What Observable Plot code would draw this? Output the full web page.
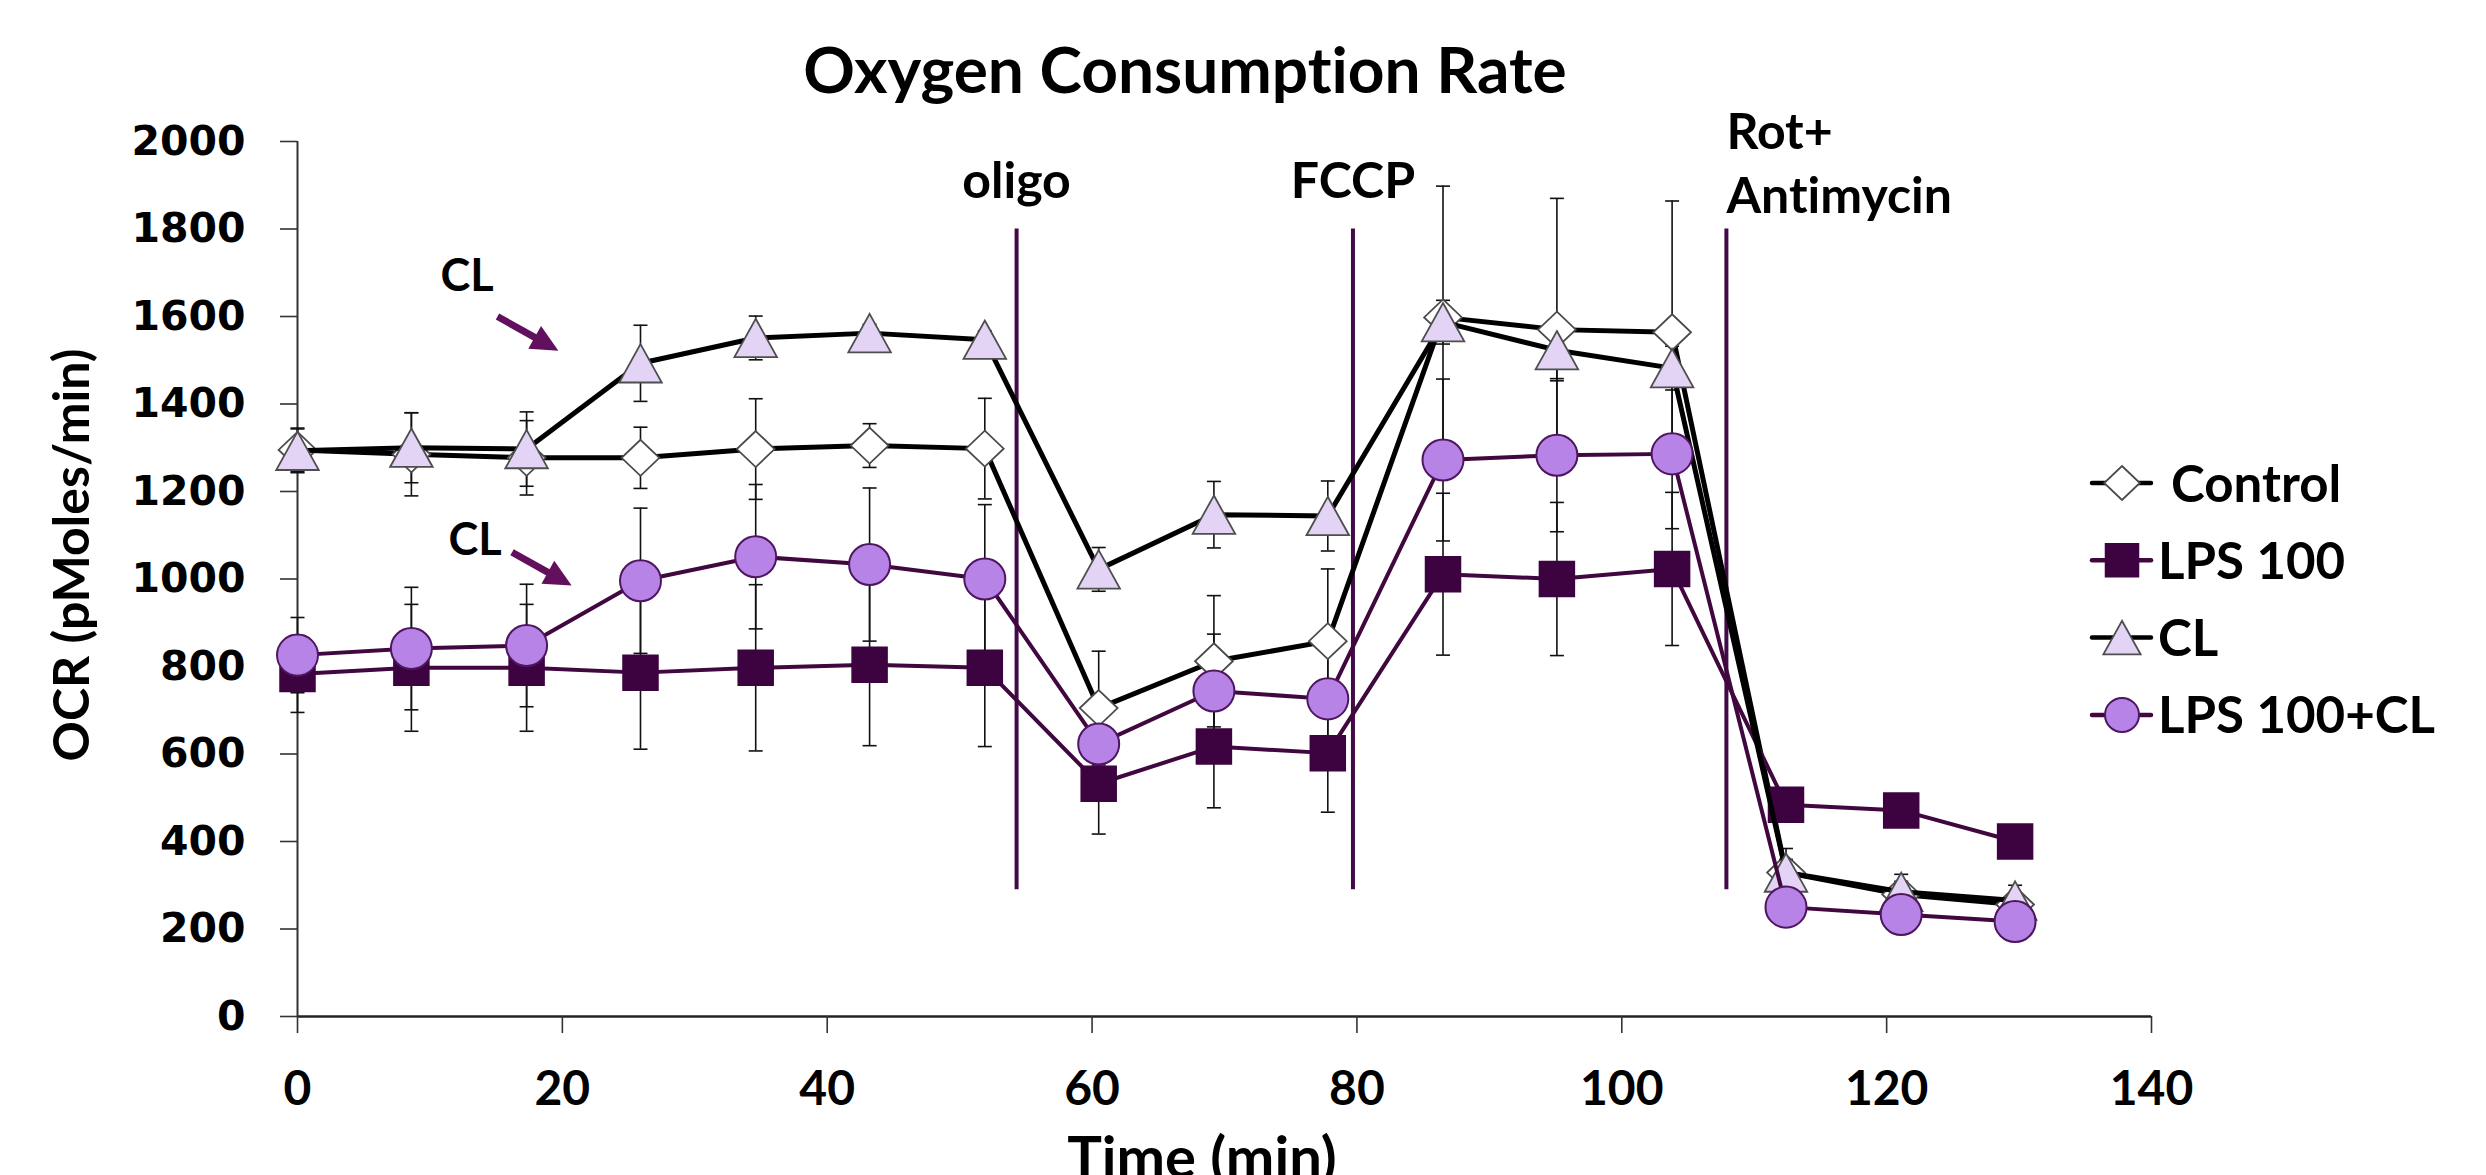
<!DOCTYPE html>
<html>
<head>
<meta charset="utf-8">
<script src="https://cdn.jsdelivr.net/npm/d3@7"></script>
<script src="https://cdn.jsdelivr.net/npm/@observablehq/plot@0.6"></script>
<style>
  html, body { margin: 0; padding: 0; background: #fff; overflow: hidden; }
  #chart { position: relative; width: 2486px; height: 1175px; }
  #chart svg text { font-variant-ligatures: none; }
</style>
</head>
<body>
<div id="chart"></div>
<script>
// ---------------- DATA ----------------
const seriesNames = ["Control", "LPS 100", "CL", "LPS 100+CL"];
const timeMin = [0, 8.6, 17.3, 25.9, 34.6, 43.2, 51.9, 60.5, 69.2, 77.8, 86.5, 95.1, 103.8, 112.4, 121.1, 129.7];

const ocrControl = [1295, 1285, 1277, 1277, 1297, 1305, 1298, 705, 812, 858, 1598, 1570, 1564, 329, 279, 256];
const errControl = [50, 95, 85, 70, 115, 50, 115, 130, 150, 165, 300, 300, 300, 30, 30, 25];

const ocrLps = [783, 797, 797, 786, 797, 804, 797, 532, 617, 602, 1011, 1000, 1023, 484, 471, 400];
const errLps = [88, 145, 145, 175, 190, 185, 180, 115, 140, 135, 185, 175, 175, 20, 20, 20];

const ocrCl = [1293, 1300, 1297, 1493, 1551, 1562, 1547, 1022, 1147, 1144, 1587, 1523, 1482, 329, 285, 265];
const errCl = [50, 80, 85, 87, 50, 20, 20, 50, 76, 80, 50, 70, 50, 55, 40, 35];

const ocrLpsCl = [826, 841, 848, 996, 1051, 1033, 1000, 623, 744, 726, 1272, 1283, 1286, 250, 233, 217];
const errLpsCl = [86, 140, 140, 166, 165, 175, 170, 100, 130, 120, 185, 175, 171, 20, 20, 20];

const treatmentNames = ["oligo", "FCCP", "Rot+\nAntimycin"];
const treatmentTimes = [54.3, 79.7, 107.9];

const calloutLabels = ["CL", "CL"];
const calloutTextX = [12.8, 13.4];
const calloutTextY = [1659, 1056];
const calloutFromX = [15.1, 16.2];
const calloutFromY = [1600, 1061];
const calloutToX = [19.7, 20.7];
const calloutToY = [1522, 985];

const xTicks = [0, 20, 40, 60, 80, 100, 120, 140];
const yTicks = [0, 200, 400, 600, 800, 1000, 1200, 1400, 1600, 1800, 2000];

const chartTitle = "Oxygen Consumption Rate";
const xLabel = "Time (min)";
const yLabel = "OCR (pMoles/min)";

// ---------------- SYMBOLS & STYLES ----------------
const symDiamond = {draw(c, size) { const s = Math.sqrt(size / Math.PI); c.moveTo(0, -s); c.lineTo(1.05 * s, 0); c.lineTo(0, s); c.lineTo(-1.05 * s, 0); c.closePath(); }};
const symSquare = {draw(c, size) { const s = Math.sqrt(size / Math.PI); c.moveTo(-s, -s); c.lineTo(s, -s); c.lineTo(s, s); c.lineTo(-s, s); c.closePath(); }};
const symTriangle = {draw(c, size) { const s = Math.sqrt(size / Math.PI); c.moveTo(0, -1.2 * s); c.lineTo(1.33 * s, 1.2 * s); c.lineTo(-1.33 * s, 1.2 * s); c.closePath(); }};
const symCircle = {draw(c, size) { const s = Math.sqrt(size / Math.PI); c.moveTo(s, 0); c.arc(0, 0, s, 0, 2 * Math.PI); c.closePath(); }};
const symCap = {draw(c, size) { const s = Math.sqrt(size / Math.PI); c.moveTo(-s, 0); c.lineTo(s, 0); }};
const symHead = {draw(c, size) { const s = Math.sqrt(size / Math.PI); c.moveTo(0, 0); c.lineTo(-0.82 * s, 1.7 * s); c.lineTo(0.82 * s, 1.7 * s); c.closePath(); }};

const seriesStyle = [
  {symbol: symDiamond, r: 18, legendR: 17, fill: "#ffffff", mStroke: "#4a4a4a", mWidth: 1.8, line: "#000000", lineWidth: 5},
  {symbol: symSquare, r: 17.5, legendR: 16.5, fill: "#3d0340", mStroke: "#3d0340", mWidth: 1.5, line: "#40083f", lineWidth: 4},
  {symbol: symTriangle, r: 16, legendR: 14, fill: "#e3d4f5", mStroke: "#4e4e4e", mWidth: 1.8, line: "#000000", lineWidth: 5},
  {symbol: symCircle, r: 20.5, legendR: 17, fill: "#b783e6", mStroke: "#4f1660", mWidth: 2, line: "#40083f", lineWidth: 4}
];
const treatmentColor = "#420a47";
const arrowColor = "#62105e";
const labelFont = "Lato, 'Open Sans', sans-serif";

// ---------------- TABLE ----------------
const seriesValues = [ocrControl, ocrLps, ocrCl, ocrLpsCl];
const seriesErrors = [errControl, errLps, errCl, errLpsCl];
const rows = seriesNames.flatMap((s, i) => timeMin.map((t, j) => ({series: s, si: i, t, v: seriesValues[i][j], e: seriesErrors[i][j]})));

// ---------------- PLOT ----------------
const W = 2486, H = 1175;
const margins = {marginLeft: 297, marginRight: 335, marginTop: 141, marginBottom: 159};
const scaleOpts = {x: {domain: [0, 140]}, y: {domain: [0, 2000]}};

const probe = Plot.plot({width: W, height: H, ...margins, ...scaleOpts, marks: [Plot.ruleY([0])]});
const sx = probe.scale("x"), sy = probe.scale("y");

const callouts = calloutLabels.map((label, i) => {
  const fx = sx.apply(calloutFromX[i]), fy = sy.apply(calloutFromY[i]);
  const tx = sx.apply(calloutToX[i]), ty = sy.apply(calloutToY[i]);
  const ang = Math.atan2(ty - fy, tx - fx);
  const headLen = 24;
  return {
    label, tx: calloutTextX[i], ty: calloutTextY[i],
    x1: calloutFromX[i], y1: calloutFromY[i],
    x2: sx.invert(tx - Math.cos(ang) * headLen), y2: sy.invert(ty - Math.sin(ang) * headLen),
    hx: calloutToX[i], hy: calloutToY[i], rot: ang * 180 / Math.PI + 90
  };
});

const errMarks = [];
const seriesMarks = [];
seriesNames.forEach((name, i) => {
  const st = seriesStyle[i];
  const d = rows.filter(r => r.si === i);
  errMarks.push(
    Plot.ruleX(d, {x: "t", y1: r => r.v - r.e, y2: r => r.v + r.e, stroke: "#111", strokeWidth: 1.6}),
    Plot.dot(d, {x: "t", y: r => r.v - r.e, symbol: symCap, r: 7, fill: "none", stroke: "#111", strokeWidth: 1.6}),
    Plot.dot(d, {x: "t", y: r => r.v + r.e, symbol: symCap, r: 7, fill: "none", stroke: "#111", strokeWidth: 1.6})
  );
  seriesMarks.push(
    Plot.line(d, {x: "t", y: "v", stroke: st.line, strokeWidth: st.lineWidth, strokeLinejoin: "round"}),
    Plot.dot(d, {x: "t", y: "v", symbol: st.symbol, r: st.r, fill: st.fill, stroke: st.mStroke, strokeWidth: st.mWidth})
  );
});

const idx = treatmentNames.map((_, i) => i);

const plot = Plot.plot({
  width: W, height: H, ...margins, ...scaleOpts,
  style: {background: "white", overflow: "visible"},
  marks: [
    Plot.ruleX(treatmentTimes, {y1: 290, y2: 1800, stroke: treatmentColor, strokeWidth: 4}),
    Plot.text(idx.slice(0, 2), {x: i => treatmentTimes[i], y: 1800, text: i => treatmentNames[i], dy: -31, lineAnchor: "bottom", textAnchor: "middle", fontSize: 50, fontWeight: 700, fontFamily: labelFont, fill: "#000"}),
    Plot.text(idx.slice(2), {x: i => treatmentTimes[i], y: 1800, text: i => treatmentNames[i], dy: -16, lineAnchor: "bottom", textAnchor: "start", lineHeight: 1.28, fontSize: 50, fontWeight: 700, fontFamily: labelFont, fill: "#000"}),
    Plot.ruleY([0], {stroke: "#222", strokeWidth: 2.5}),
    Plot.ruleX([0], {stroke: "#333", strokeWidth: 2}),
    Plot.axisY(yTicks, {tickSize: 17, tickPadding: 35, stroke: "#333", strokeWidth: 1.6, fontSize: 41, fontWeight: 700, fontFamily: "'DejaVu Sans', Verdana, sans-serif", fill: "#000", tickFormat: d => `${d}`, label: null}),
    Plot.axisX(xTicks, {tickSize: 17, tickPadding: 37, stroke: "#333", strokeWidth: 1.6, fontSize: 48, fontWeight: 700, fontFamily: labelFont, fill: "#000", tickFormat: d => `${d}`, label: null}),
    ...errMarks,
    ...seriesMarks,
    Plot.text(callouts, {x: "tx", y: "ty", text: "label", lineAnchor: "bottom", textAnchor: "middle", fontSize: 45, fontWeight: 700, fontFamily: labelFont, fill: "#000"}),
    Plot.link(callouts, {x1: "x1", y1: "y1", x2: "x2", y2: "y2", stroke: arrowColor, strokeWidth: 7}),
    Plot.dot(callouts, {x: "hx", y: "hy", symbol: symHead, r: 16, rotate: "rot", fill: arrowColor, stroke: "none"})
  ]
});

const svg = d3.select(plot);
// Title & axis labels
svg.append("text").attr("x", 1185).attr("y", 93).attr("text-anchor", "middle")
  .attr("font-family", labelFont).attr("font-weight", 700).attr("font-size", 64).attr("fill", "#000").text(chartTitle);
svg.append("text").attr("transform", "translate(89,555) rotate(-90)").attr("text-anchor", "middle")
  .attr("font-family", labelFont).attr("font-weight", 700).attr("font-size", 50).attr("fill", "#000").text(yLabel);
svg.append("text").attr("x", 1202).attr("y", 1178).attr("text-anchor", "middle")
  .attr("font-family", labelFont).attr("font-weight", 700).attr("font-size", 58).attr("fill", "#000").text(xLabel);

// Legend
const lg = svg.append("g").attr("text-anchor", "start");
seriesNames.forEach((name, i) => {
  const st = seriesStyle[i];
  const cy = 483 + i * 77.3;
  lg.append("line").attr("x1", 2092).attr("x2", 2151).attr("y1", cy).attr("y2", cy)
    .attr("stroke", st.line).attr("stroke-width", 4.5).attr("stroke-linecap", "round");
  lg.append("path").attr("transform", `translate(2122,${cy})`)
    .attr("d", d3.symbol(st.symbol, Math.PI * st.legendR * st.legendR)())
    .attr("fill", st.fill).attr("stroke", st.mStroke).attr("stroke-width", st.mWidth);
  lg.append("text").attr("x", i === 0 ? 2171 : 2158).attr("y", cy + 18.5).attr("text-anchor", "start")
    .attr("font-family", labelFont).attr("font-weight", 700).attr("font-size", 51).attr("fill", "#000").text(name);
});

document.getElementById("chart").appendChild(plot);
</script>
</body>
</html>
